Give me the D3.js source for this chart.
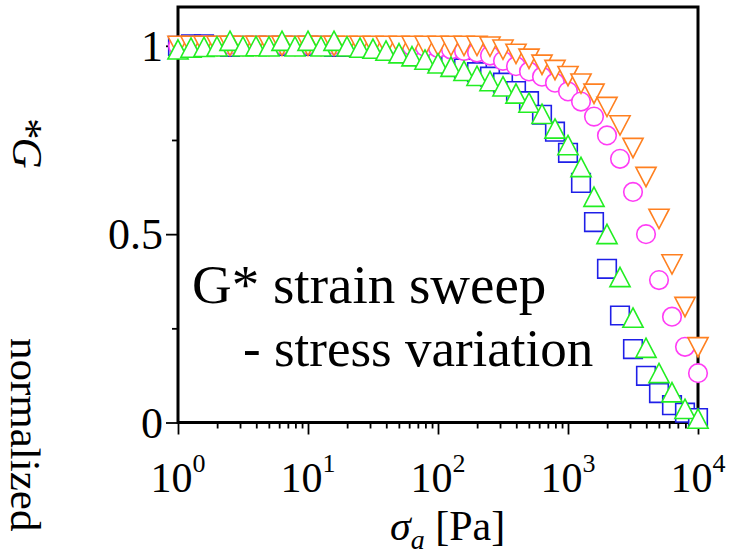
<!DOCTYPE html>
<html><head><meta charset="utf-8">
<script src="https://cdn.jsdelivr.net/npm/d3@7"></script>
<style>
html,body{margin:0;padding:0;background:#fff;}
text{font-family:"Liberation Serif","Times New Roman",serif;fill:#000;}
</style></head>
<body>
<svg id="chart" width="730" height="555"></svg>
<script>
// ---- data ----
const stress = d3.range(41).map(k => +Math.pow(10, k / 10).toPrecision(4)); // sigma_a [Pa]
const seriesNames = ["blue squares", "magenta circles", "orange down-triangles", "green up-triangles"];
const blueSq = [1.0,1.004,1.004,1.0,0.997,1.0,1.0,1.0,1.0,1.0,1.0,1.0,0.997,0.997,0.997,
  0.994,0.99,0.985,0.978,0.97,0.96,0.95,0.94,0.93,0.918,0.902,0.88,0.853,0.817,0.772,
  0.716,0.636,0.532,0.408,0.284,0.195,0.124,0.078,0.046,0.026,0.012];
const magentaCirc = [1.0,1.0,1.002,1.0,1.003,1.0,1.0,1.0,1.003,1.0,1.003,1.0,1.003,1.0,1.0,
  1.0,1.0,0.999,0.998,0.997,0.994,0.99,0.986,0.982,0.974,0.96,0.946,0.932,0.918,0.902,
  0.879,0.852,0.812,0.762,0.70,0.612,0.50,0.378,0.281,0.201,0.131];
const orangeTri = [1.0,1.0,1.0,1.0,1.0,1.0,1.0,1.0,1.0,1.0,1.0,1.0,1.0,1.0,1.0,
  1.0,1.0,1.0,1.0,1.0,1.0,1.0,1.0,1.0,0.998,0.99,0.979,0.966,0.95,0.936,
  0.92,0.90,0.873,0.838,0.789,0.729,0.652,0.541,0.42,0.307,0.20];
const greenTri = [0.99,0.995,0.997,0.998,1.013,0.998,0.999,0.998,1.013,0.998,1.013,0.998,1.013,0.998,0.995,
  0.992,0.987,0.98,0.972,0.963,0.953,0.944,0.933,0.92,0.906,0.892,0.873,0.849,0.819,0.78,
  0.736,0.678,0.599,0.50,0.386,0.278,0.198,0.131,0.08,0.036,0.01];
const xMajorTicks = [1, 10, 100, 1000, 10000];
const xTickExp = ["0", "1", "2", "3", "4"];
const yMajorTicks = [0, 0.5, 1];
const yTickLabels = ["0", "0.5", "1"];
const yMinorTicks = [0.25, 0.75];
const legendLines = ["G* strain sweep", "- stress variation"];

// ---- layout ----
const L = 178, R = 698, T = 7, B = 422.5;
const svg = d3.select("#chart");
const x = d3.scaleLog().domain([1, 1e4]).range([L, R]);
const y = d3.scaleLinear().domain([0, 1.103]).range([B, T]);

// minor x ticks
const xMinor = [];
for (let d = 0; d < 4; d++) for (let m = 2; m <= 9; m++) xMinor.push(m * Math.pow(10, d));

const axX = svg.append("g").attr("transform", `translate(0,${B})`)
  .call(d3.axisBottom(x).tickValues(xMajorTicks).tickFormat("").tickSize(12).tickSizeOuter(0));
const axXm = svg.append("g").attr("transform", `translate(0,${B})`)
  .call(d3.axisBottom(x).tickValues(xMinor).tickFormat("").tickSize(6).tickSizeOuter(0));
const axY = svg.append("g").attr("transform", `translate(${L},0)`)
  .call(d3.axisLeft(y).tickValues(yMajorTicks).tickFormat("").tickSize(12).tickSizeOuter(0));
const axYm = svg.append("g").attr("transform", `translate(${L},0)`)
  .call(d3.axisLeft(y).tickValues(yMinorTicks).tickFormat("").tickSize(6).tickSizeOuter(0));
[axX, axXm, axY, axYm].forEach(g => {
  g.select(".domain").remove();
  g.selectAll("line").attr("stroke", "#000").attr("stroke-width", 1.8);
});

// frame
svg.append("rect").attr("x", L).attr("y", T).attr("width", R - L).attr("height", B - T)
  .attr("fill", "none").attr("stroke", "#000").attr("stroke-width", 3);

// y tick labels
svg.append("g").selectAll("text").data(yMajorTicks).join("text")
  .attr("x", 163).attr("y", d => y(d) + 15)
  .attr("text-anchor", "end").attr("font-size", 44)
  .text((d, i) => yTickLabels[i]);

// x tick labels
const xl = svg.append("g").selectAll("text").data(xMajorTicks).join("text")
  .attr("x", d => x(d)).attr("y", 492).attr("font-size", 42).attr("text-anchor", "middle");
xl.append("tspan").text("10");
xl.append("tspan").attr("font-size", 26).attr("dy", -20).text((d, i) => xTickExp[i]);

// x axis title
const xt = svg.append("text").attr("x", 390).attr("y", 540).attr("font-size", 42);
xt.append("tspan").attr("font-style", "italic").text("σ");
xt.append("tspan").attr("font-style", "italic").attr("font-size", 28).attr("dy", 9).text("a");
xt.append("tspan").attr("dy", -9).text(" [Pa]");

// y axis title (rotated clockwise)
svg.append("text").attr("transform", "translate(11,338) rotate(90)")
  .attr("font-size", 43).text("normalized");
svg.append("text").attr("transform", "translate(13,116) rotate(90)")
  .attr("font-size", 43).attr("font-style", "italic").text("*G");

// markers
const sz = 9.3;
const sym = {
  sq: `M${-sz},${-sz}H${sz}V${sz}H${-sz}Z`,
  up: `M0,${-sz - 0.5}L${sz + 0.8},${sz + 0.2}L${-sz - 0.8},${sz + 0.2}Z`,
  down: `M${-sz - 0.8},${-sz - 0.2}L${sz + 0.8},${-sz - 0.2}L0,${sz + 0.5}Z`
};
function drawSeries(vals, color, kind) {
  const g = svg.append("g");
  const pts = stress.map((s, i) => ({ s, v: vals[i] }));
  if (kind === "circ") {
    g.selectAll("circle").data(pts).join("circle")
      .attr("cx", d => x(d.s)).attr("cy", d => y(d.v)).attr("r", sz)
      .attr("fill", "#fff").attr("stroke", color).attr("stroke-width", 1.6);
  } else {
    g.selectAll("path").data(pts).join("path")
      .attr("transform", d => `translate(${x(d.s)},${y(d.v)})`)
      .attr("d", sym[kind])
      .attr("fill", "#fff").attr("stroke", color).attr("stroke-width", 1.6);
  }
}
drawSeries(blueSq, "#1f1fe8", "sq");
drawSeries(magentaCirc, "#ff3cf5", "circ");
drawSeries(orangeTri, "#ff8020", "down");
drawSeries(greenTri, "#22ee22", "up");

// legend text
svg.append("text").attr("x", 192).attr("y", 303).attr("font-size", 55).text(legendLines[0]);
svg.append("text").attr("x", 243).attr("y", 366).attr("font-size", 53).text(legendLines[1]);
</script>
</body></html>
